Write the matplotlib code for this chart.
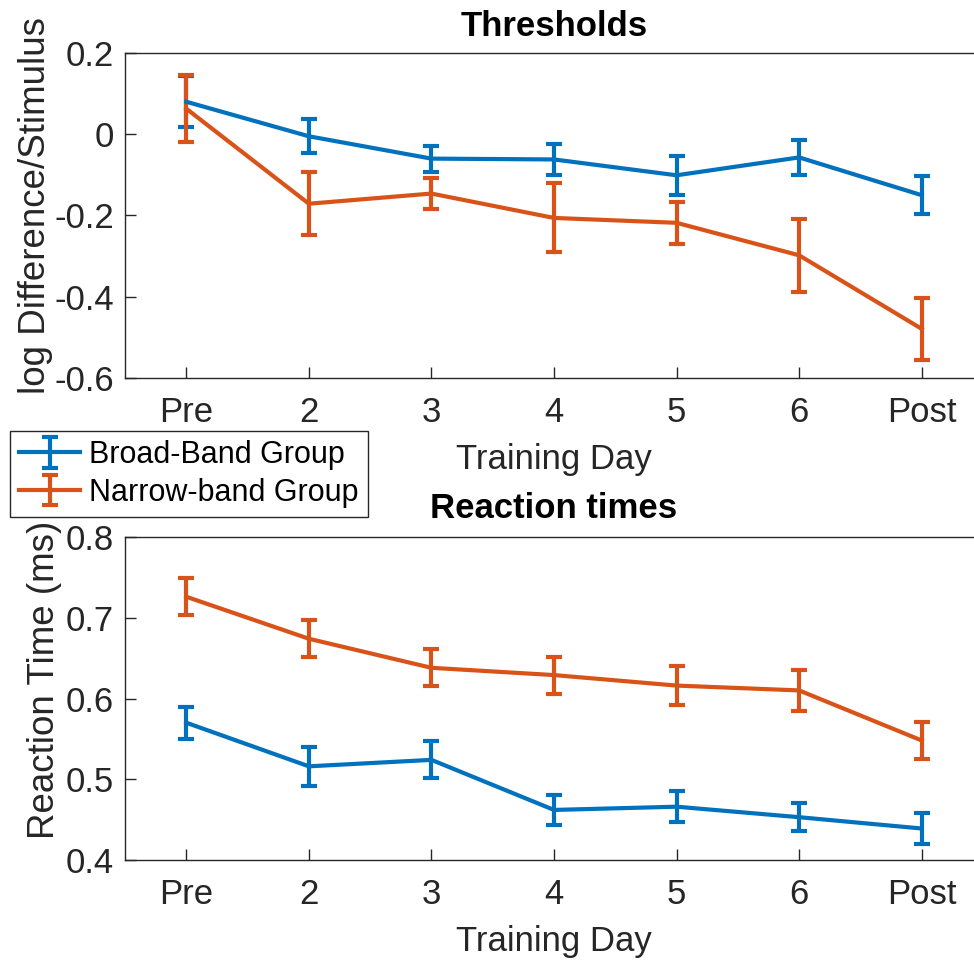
import matplotlib
matplotlib.use("Agg")
import matplotlib.pyplot as plt
import numpy as np

plt.rcParams['font.family'] = ['Liberation Sans', 'DejaVu Sans']

days = ['Pre', '2', '3', '4', '5', '6', 'Post']

# thresholds (log difference / stimulus)
thr_broad = [0.080, -0.005, -0.060, -0.062, -0.101, -0.057, -0.150]
thr_broad_err = [0.063, 0.042, 0.032, 0.039, 0.048, 0.043, 0.046]
thr_narrow = [0.063, -0.171, -0.146, -0.206, -0.218, -0.298, -0.479]
thr_narrow_err = [0.083, 0.078, 0.039, 0.085, 0.051, 0.090, 0.077]

# reaction times
rt_broad = [0.570, 0.516, 0.524, 0.462, 0.466, 0.453, 0.439]
rt_broad_err = [0.020, 0.024, 0.023, 0.019, 0.019, 0.017, 0.019]
rt_narrow = [0.726, 0.674, 0.638, 0.629, 0.616, 0.610, 0.548]
rt_narrow_err = [0.023, 0.023, 0.023, 0.023, 0.024, 0.025, 0.023]

blue = '#0072BD'
orange = '#D95319'
dark = '#262626'
fs = 25

fig = plt.figure(figsize=(9.74, 9.61), dpi=100)
ax1 = fig.add_axes([125/974, 1-378/961, 858/974, 325/961])
ax2 = fig.add_axes([125/974, 1-860/961, 858/974, 323/961])

x = np.arange(1, len(days) + 1)
kw = dict(lw=3, capsize=6, capthick=3, elinewidth=3)

h1 = ax1.errorbar(x, thr_broad, yerr=thr_broad_err, color=blue, label='Broad-Band Group', **kw)
h2 = ax1.errorbar(x, thr_narrow, yerr=thr_narrow_err, color=orange, label='Narrow-band Group', **kw)
ax2.errorbar(x, rt_broad, yerr=rt_broad_err, color=blue, **kw)
ax2.errorbar(x, rt_narrow, yerr=rt_narrow_err, color=orange, **kw)

ax1.set_ylim(-0.6, 0.2)
ax1.set_yticks([-0.6, -0.4, -0.2, 0, 0.2])
ax1.set_yticklabels(['-0.6', '-0.4', '-0.2', '0', '0.2'])
ax2.set_ylim(0.4, 0.8)
ax2.set_yticks([0.4, 0.5, 0.6, 0.7, 0.8])

for ax in (ax1, ax2):
    ax.set_xlim(0.5, 7.5)
    ax.set_xticks(x)
    ax.set_xticklabels(days)
    ax.tick_params(direction='in', length=8, width=1, labelsize=fs, colors=dark)
    ax.tick_params(axis='x', pad=13)
    ax.tick_params(axis='y', pad=8)
    for s in ax.spines.values():
        s.set_color(dark)
        s.set_linewidth(1)
    ax.set_xlabel('Training Day', fontsize=fs, color=dark, labelpad=10)

ax1.set_ylabel('log Difference/Stimulus', fontsize=26.5, color=dark)
ax2.set_ylabel('Reaction Time (ms)', fontsize=26.5, color=dark)
ax1.yaxis.set_label_coords(-0.084, 0.532)
ax2.yaxis.set_label_coords(-0.074, 0.557)
ax1.set_title('Thresholds', fontsize=fs, fontweight='bold', pad=12)
ax2.set_title('Reaction times', fontsize=fs, fontweight='bold', pad=14)

leg = fig.legend(handles=[h1, h2], loc='upper left', bbox_to_anchor=(10/974, 1-431/961),
                 fontsize=22, frameon=True, fancybox=False, framealpha=1,
                 borderpad=0.3, handlelength=2.0, handletextpad=0.3, labelspacing=0.25,
                 borderaxespad=0)
leg.get_frame().set_edgecolor(dark)
leg.get_frame().set_linewidth(1)

fig.savefig('out.png', dpi=100)
